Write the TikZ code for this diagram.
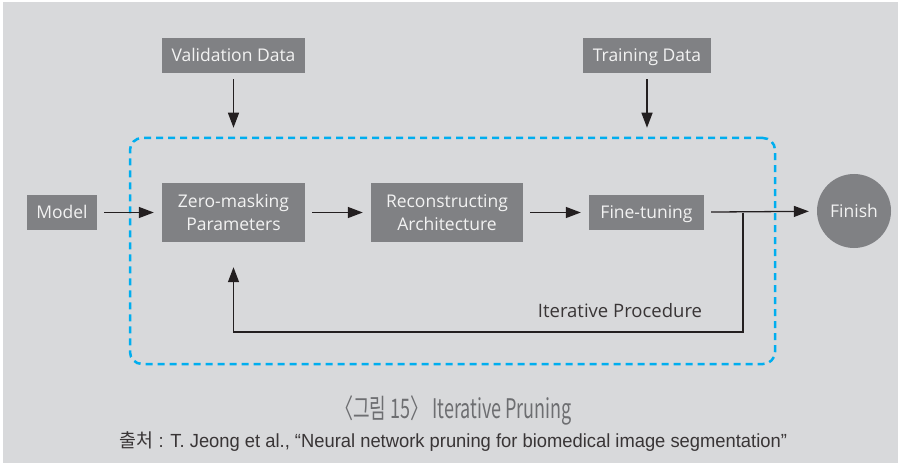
\documentclass[tikz,border=0pt]{standalone}
\usepackage{fontspec}
\usepackage{graphicx}
\setmainfont{Open Sans}
\newfontfamily\krfont{Noto Sans CJK KR}
\newfontfamily\srcfont{Liberation Sans}
\usetikzlibrary{arrows.meta}
\definecolor{panel}{HTML}{D8D9DB}
\definecolor{boxgrey}{HTML}{808184}
\definecolor{boxtext}{HTML}{F2F2F2}
\definecolor{loopblue}{HTML}{00AEEF}
\definecolor{ink}{HTML}{231F20}
\definecolor{captiongrey}{HTML}{6D6E71}
\tikzset{
  stage/.style={fill=boxgrey, text=boxtext, inner sep=0pt, align=center, font=\fontsize{17.5}{23}\selectfont},
  oneline/.style={text height=12.5pt, text depth=0pt},
  flow/.style={draw=ink, line width=1.3pt, -{Triangle[length=15pt,width=11pt]}, shorten <=7pt, shorten >=8pt},
}
\begin{document}
\begin{tikzpicture}[x=1pt,y=-1pt]
  % background
  \fill[white] (0,0) rectangle (901,465);
  \fill[panel] (3,2) rectangle (898,463);

  % loop frame
  \node[draw=loopblue, dash pattern=on 7pt off 5pt, line width=2.5pt, rounded corners=12pt,
        minimum width=645pt, minimum height=226pt, inner sep=0pt] (loop) at (452.5,251) {};

  % boxes
  \node[stage, oneline, minimum width=143pt, minimum height=35pt] (valid) at (233.5,55.5) {Validation Data};
  \node[stage, oneline, minimum width=128pt, minimum height=35pt] (train) at (647,55.5) {Training Data};
  \node[stage, oneline, minimum width=70pt, minimum height=35pt] (model) at (62,212.5) {Model};
  \node[stage, minimum width=143pt, minimum height=59pt] (zero) at (233.5,212.5) {Zero-masking\\Parameters};
  \node[stage, minimum width=152pt, minimum height=59pt] (recon) at (447,212.5) {Reconstructing\\Architecture};
  \node[stage, oneline, minimum width=115pt, minimum height=35pt] (fine) at (646.5,212.5) {Fine-tuning};
  \node[stage, oneline, circle, minimum size=74pt] (finish) at (854,211) {Finish};

  % lines
  \draw[flow, shorten <=6pt, shorten >=9pt] (valid.south) -- (valid.south |- loop.north);
  \draw[flow, shorten <=6pt, shorten >=9pt] (train.south) -- (train.south |- loop.north);
  \draw[flow] (model) -- (zero);
  \draw[flow] (zero) -- (recon);
  \draw[flow] (recon) -- (fine);
  \draw[flow] (fine) -- (finish);
  \coordinate (split) at (743,212.5);
  \coordinate (back) at (743,332);
  \draw[flow, shorten <=0pt, shorten >=25pt] (split) -- (back) -| (zero.south);
  \node[text=ink!90, font=\fontsize{18.5}{20}\selectfont] (iter) at (620,311) {Iterative Procedure};

  % caption
  \node[text=captiongrey, inner sep=0pt] (title) at (453.5,410)
    {\resizebox{237pt}{\height}{\krfont\fontsize{27}{27}\selectfont 〈그림 15〉 Iterative Pruning}};
  \node[text=ink!90, inner sep=0pt] (source) at (453.5,442)
    {\resizebox{667pt}{\height}{\fontsize{19}{19}\selectfont{\krfont 출처} \srcfont: T. Jeong et al., “Neural network pruning for biomedical image segmentation”}};
\end{tikzpicture}
\end{document}
